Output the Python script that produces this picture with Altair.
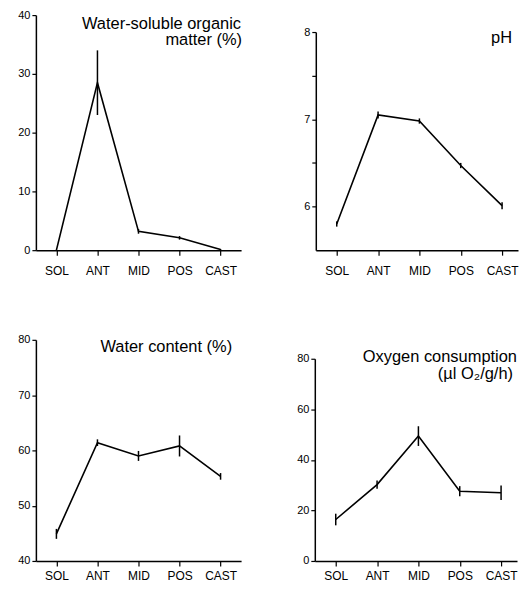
import altair as alt
import pandas as pd

categories = ["SOL", "ANT", "MID", "POS", "CAST"]

wsom_values = [0.0, 28.5, 3.2, 2.1, 0.1]
wsom_errors = [0.0, 5.5, 0.4, 0.3, 0.1]

ph_values = [5.80, 7.05, 6.98, 6.47, 6.01]
ph_errors = [0.03, 0.04, 0.03, 0.03, 0.04]

water_values = [44.9, 61.4, 59.0, 60.8, 55.3]
water_errors = [0.9, 0.6, 0.9, 1.9, 0.6]

oxygen_values = [16.4, 30.2, 49.4, 27.6, 27.0]
oxygen_errors = [2.3, 1.6, 3.9, 2.0, 2.9]

FONT = "Liberation Sans"


def panel(values, errors, domain, ticks, label_expr, titles, width, height, top,
          xext, xpad, xscale):
    df = pd.DataFrame({
        "cat": categories,
        "v": values,
        "lo": [v - e for v, e in zip(values, errors)],
        "hi": [v + e for v, e in zip(values, errors)],
    })
    x = alt.X("cat:N", sort=categories, scale=xscale,
              axis=alt.Axis(title=None, labelAngle=0, labelFontSize=12,
                            tickSize=5, labelPadding=xpad,
                            minExtent=xext, maxExtent=xext))
    yaxis = dict(title=None, values=ticks, labelFontSize=11, tickSize=4,
                 labelPadding=2, minExtent=28, maxExtent=28)
    if label_expr:
        yaxis["labelExpr"] = label_expr
    yscale = alt.Scale(domain=domain, range=[height, top], nice=False, zero=False)
    base = alt.Chart(df)
    line = base.mark_line(color="black", strokeWidth=1.6).encode(
        x=x, y=alt.Y("v:Q", scale=yscale, axis=alt.Axis(**yaxis)))
    err = base.mark_rule(color="black", strokeWidth=1.5).encode(
        x=alt.X("cat:N", sort=categories), y=alt.Y("lo:Q"), y2="hi:Q")
    layers = [line, err]
    for text, dx, yy in titles:
        layers.append(
            alt.Chart(pd.DataFrame({"t": [text]})).mark_text(
                align="right", baseline="alphabetic", fontSize=16.5,
                font=FONT, color="black").encode(
                x=alt.value(width + dx), y=alt.value(yy), text="t:N"))
    return alt.layer(*layers).properties(width=width, height=height)


left_x = alt.Scale(type="point", padding=0.5)
right_x = alt.Scale(type="point", padding=0.446, align=0.568)

p1 = panel(wsom_values, wsom_errors, [0, 40], [0, 10, 20, 30, 40], None,
           [("Water-soluble organic", 0, 13.5), ("matter (%)", 1, 30.5)],
           206, 236, 0, 30, 10, left_x)
p2 = panel(ph_values, ph_errors, [5.5, 8], [6, 6.5, 7, 7.5, 8],
           "datum.value % 1 == 0 ? format(datum.value, 'd') : ''",
           [("pH", -6, 28.5)], 203, 236, 17, 30, 10, right_x)
p3 = panel(water_values, water_errors, [40, 80], [40, 50, 60, 70, 80], None,
           [("Water content (%)", -9, 12.5)], 206, 222, 0, 22, 5, left_x)
p4 = panel(oxygen_values, oxygen_errors, [0, 80], list(range(0, 90, 10)),
           "datum.value % 20 == 0 ? datum.label : ''",
           [("Oxygen consumption", 0, 22), ("(µl O₂/g/h)", -4, 39)],
           203, 222, 19, 22, 5, right_x)

chart = alt.vconcat(
    alt.hconcat(p1, p2, spacing=46),
    alt.hconcat(p3, p4, spacing=46),
    spacing=54,
).properties(
    padding={"left": 0, "top": 0, "right": 0, "bottom": 0}
).configure_view(stroke=None).configure_axis(
    domainColor="black", domainWidth=1.5, tickColor="black", tickWidth=1.2,
    labelColor="black", labelFont=FONT, grid=False,
).configure_text(font=FONT)

chart.save("out.html", embed_options={"renderer": "svg", "actions": False})
